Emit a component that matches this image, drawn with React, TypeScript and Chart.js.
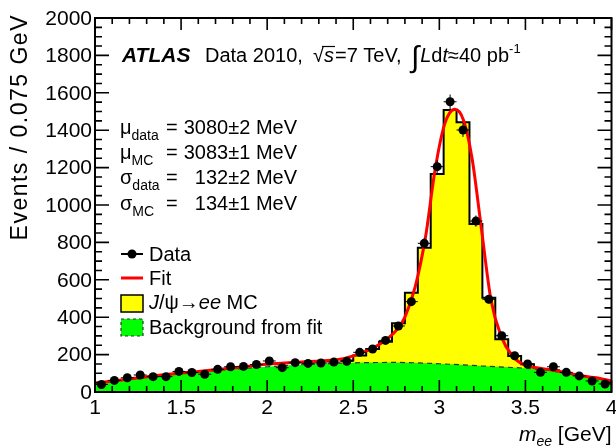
import { useEffect, useRef } from "react";
import { Chart, registerables } from "chart.js";

Chart.register(...registerables);

// ---------- axis definition ----------
const X_MIN = 1;
const X_MAX = 4;
const BIN_WIDTH = 0.075;
const Y_MIN = 0;
const Y_MAX = 2000;
const xMajorTicks = [1, 1.5, 2, 2.5, 3, 3.5, 4];
const xTickLabels = ["1", "1.5", "2", "2.5", "3", "3.5", "4"];
const yMajorTicks = [0, 200, 400, 600, 800, 1000, 1200, 1400, 1600, 1800, 2000];
const yTickLabels = ["0", "200", "400", "600", "800", "1000", "1200", "1400", "1600", "1800", "2000"];
const xMinorStep = 0.1;
const yMinorStep = 50;

// ---------- data (events per 0.075 GeV bin, 1.0 - 4.0 GeV) ----------
const dataCounts = [
  40, 62, 76, 91, 82, 82, 110, 104, 95, 121,
  135, 137, 147, 166, 130, 157, 153, 155, 160, 164,
  212, 230, 276, 353, 483, 795, 1205, 1552, 1401, 914,
  496, 301, 194, 150, 105, 135, 105, 86, 59, 43,
];
const dataErrors = [
  6, 8, 9, 10, 9, 9, 10, 10, 10, 11,
  12, 12, 12, 13, 11, 13, 12, 12, 13, 13,
  15, 15, 17, 19, 22, 28, 35, 39, 37, 30,
  22, 17, 14, 12, 10, 12, 10, 9, 8, 7,
];

// J/psi -> ee MC stacked on the background, from bin index mcFirstBin
const mcFirstBin = 19;
const mcStacked = [168, 195, 230, 269, 367, 531, 772, 1166, 1508, 1442, 898, 504, 282, 192, 148, 121, 116];

// fit curve (signal + background)
const fitMass = [1.0, 1.2, 1.4, 1.6, 1.8, 2.0, 2.2, 2.35, 2.45, 2.55, 2.62, 2.7, 2.76, 2.8, 2.86, 2.92, 2.975, 3.03, 3.09, 3.14, 3.19, 3.243, 3.3, 3.36, 3.42, 3.49, 3.6, 3.7, 3.8, 3.9, 4.0];
const fitValues = [47, 70, 92, 110, 128, 148, 160, 168, 180, 210, 237, 285, 340, 400, 563, 830, 1187, 1430, 1512, 1455, 1250, 884, 492, 296, 198, 146, 125, 110, 91, 77, 60];

// background component of the fit
const bkgMass = [1.0, 1.25, 1.5, 1.75, 2.0, 2.25, 2.5, 2.75, 3.0, 3.25, 3.5, 3.6, 3.7, 3.8, 3.9, 4.0];
const bkgValues = [42, 72, 97, 118, 135, 148, 156, 158, 151, 139, 127, 119, 106, 89, 74, 56];

// ---------- helpers ----------
const FONT = '"Liberation Sans", Arial, Helvetica, sans-serif';
const f = (size: number, style = "normal", weight = "normal") => `${style} ${weight} ${size}px ${FONT}`;

type Run = { t: string; size?: number; style?: string; weight?: string; dy?: number; gap?: number };

function runsWidth(ctx: CanvasRenderingContext2D, runs: Run[], base: number) {
  let w = 0;
  for (const r of runs) {
    ctx.font = f(r.size ?? base, r.style ?? "normal", r.weight ?? "normal");
    w += ctx.measureText(r.t).width + (r.gap ?? 0);
  }
  return w;
}

function drawRuns(ctx: CanvasRenderingContext2D, x: number, y: number, runs: Run[], base: number) {
  let cx = x;
  ctx.textAlign = "left";
  ctx.textBaseline = "alphabetic";
  for (const r of runs) {
    ctx.font = f(r.size ?? base, r.style ?? "normal", r.weight ?? "normal");
    ctx.fillText(r.t, cx, y + (r.dy ?? 0));
    cx += ctx.measureText(r.t).width + (r.gap ?? 0);
  }
  return cx;
}

const errorBarPlugin = {
  id: "errorBars",
  beforeDatasetDraw(chart: any, args: any) {
    if (args.index !== 0) return;
    const ctx = chart.ctx as CanvasRenderingContext2D;
    const xs = chart.scales.x;
    const ys = chart.scales.y;
    ctx.save();
    ctx.beginPath();
    ctx.rect(chart.chartArea.left, chart.chartArea.top, chart.chartArea.right - chart.chartArea.left, chart.chartArea.bottom - chart.chartArea.top);
    ctx.clip();
    ctx.strokeStyle = "#000";
    ctx.lineWidth = 1;
    dataCounts.forEach((n, i) => {
      const lo = X_MIN + i * BIN_WIDTH;
      const hi = lo + BIN_WIDTH;
      const cx = xs.getPixelForValue((lo + hi) / 2);
      const cy = ys.getPixelForValue(n);
      ctx.beginPath();
      ctx.moveTo(xs.getPixelForValue(lo), cy);
      ctx.lineTo(xs.getPixelForValue(hi), cy);
      ctx.moveTo(cx, ys.getPixelForValue(n - dataErrors[i]));
      ctx.lineTo(cx, ys.getPixelForValue(n + dataErrors[i]));
      ctx.stroke();
    });
    ctx.restore();
  },
};

const framePlugin = {
  id: "rootFrame",
  afterDraw(chart: any) {
    const ctx = chart.ctx as CanvasRenderingContext2D;
    const { left, right, top, bottom } = chart.chartArea;
    const xs = chart.scales.x;
    const ys = chart.scales.y;
    ctx.save();
    ctx.strokeStyle = "#000";
    ctx.fillStyle = "#000";
    ctx.lineWidth = 2;
    ctx.strokeRect(left, top, right - left, bottom - top);

    // x ticks (bottom and top, pointing inward)
    const nx = Math.round((X_MAX - X_MIN) / xMinorStep);
    ctx.lineWidth = 1.6;
    for (let k = 0; k <= nx; k++) {
      const v = X_MIN + k * xMinorStep;
      const px = xs.getPixelForValue(v);
      const major = k % 5 === 0;
      const len = major ? 12 : 6;
      ctx.beginPath();
      ctx.moveTo(px, bottom);
      ctx.lineTo(px, bottom - len);
      ctx.moveTo(px, top);
      ctx.lineTo(px, top + len);
      ctx.stroke();
    }
    // y ticks (left and right)
    const ny = Math.round((Y_MAX - Y_MIN) / yMinorStep);
    for (let k = 0; k <= ny; k++) {
      const v = Y_MIN + k * yMinorStep;
      const py = ys.getPixelForValue(v);
      const major = k % 4 === 0;
      const len = major ? 14 : 7;
      ctx.beginPath();
      ctx.moveTo(left, py);
      ctx.lineTo(left + len, py);
      ctx.moveTo(right, py);
      ctx.lineTo(right - len, py);
      ctx.stroke();
    }

    // tick labels
    ctx.font = f(21);
    ctx.textAlign = "center";
    ctx.textBaseline = "top";
    xMajorTicks.forEach((v, i) => {
      ctx.fillText(xTickLabels[i], xs.getPixelForValue(v), bottom + 6);
    });
    ctx.textAlign = "right";
    ctx.textBaseline = "middle";
    yMajorTicks.forEach((v, i) => {
      ctx.fillText(yTickLabels[i], left - 3, ys.getPixelForValue(v) + 1);
    });

    // y axis title
    ctx.save();
    ctx.translate(27, top - 4);
    ctx.rotate(-Math.PI / 2);
    ctx.textAlign = "right";
    ctx.textBaseline = "alphabetic";
    ctx.font = f(23);
    (ctx as any).letterSpacing = "1.5px";
    ctx.fillText("Events / 0.075 GeV", 0, 0);
    (ctx as any).letterSpacing = "0px";
    ctx.restore();

    // x axis title
    const xt: Run[] = [
      { t: "m", style: "italic" },
      { t: "ee", style: "italic", size: 14, dy: 5 },
      { t: " [GeV]" },
    ];
    const w = runsWidth(ctx, xt, 21);
    drawRuns(ctx, right - w, 441, xt, 21);

    // ATLAS label
    const ay = 62;
    drawRuns(ctx, 122, ay, [{ t: "ATLAS", style: "italic", weight: "bold", size: 21 }], 20);
    drawRuns(ctx, 205, ay, [{ t: "Data 2010," }], 20);
    // sqrt(s) with overbar, ROOT style
    const sx = drawRuns(ctx, 313, ay, [{ t: "\u221A", gap: -1 }], 20);
    ctx.font = f(20, "italic");
    const sw = ctx.measureText("s").width;
    ctx.fillText("s", sx + 1, ay);
    ctx.lineWidth = 1.2;
    ctx.beginPath();
    ctx.moveTo(sx - 1, ay - 15.5);
    ctx.lineTo(sx + sw + 2, ay - 15.5);
    ctx.stroke();
    drawRuns(ctx, sx + sw + 2, ay, [{ t: "=7 TeV," }], 20);
    drawRuns(ctx, 411, ay, [
      { t: "\u222B", size: 30, dy: 5, gap: 1 },
      { t: "L", style: "italic" },
      { t: "d" },
      { t: "t", style: "italic" },
      { t: "\u224840 pb" },
      { t: "-1", size: 13, dy: -9 },
    ], 20);

    // fit results
    const rows: { sym: string; sub: string; val: string; y: number }[] = [
      { sym: "\u03BC", sub: "data", val: "3080\u00B12 MeV", y: 134 },
      { sym: "\u03BC", sub: "MC", val: "3083\u00B11 MeV", y: 159 },
      { sym: "\u03C3", sub: "data", val: "132\u00B12 MeV", y: 184 },
      { sym: "\u03C3", sub: "MC", val: "134\u00B11 MeV", y: 210 },
    ];
    rows.forEach((r) => {
      drawRuns(ctx, 120, r.y, [{ t: r.sym }, { t: r.sub, size: 14, dy: 6 }], 20);
      ctx.font = f(20);
      ctx.textAlign = "left";
      ctx.fillText("=", 166, r.y);
      ctx.textAlign = "right";
      ctx.fillText(r.val, 297, r.y);
    });

    // legend
    const lx0 = 121;
    const lx1 = 143;
    const tx = 149;
    // Data
    ctx.strokeStyle = "#000";
    ctx.lineWidth = 2;
    ctx.beginPath();
    ctx.moveTo(lx0, 254);
    ctx.lineTo(lx1, 254);
    ctx.stroke();
    ctx.beginPath();
    ctx.arc((lx0 + lx1) / 2, 254, 4.5, 0, Math.PI * 2);
    ctx.fill();
    drawRuns(ctx, tx, 261, [{ t: "Data" }], 20);
    // Fit
    ctx.strokeStyle = "#ff0000";
    ctx.lineWidth = 3;
    ctx.beginPath();
    ctx.moveTo(lx0, 278);
    ctx.lineTo(lx1, 278);
    ctx.stroke();
    drawRuns(ctx, tx, 285, [{ t: "Fit" }], 20);
    // MC
    ctx.fillStyle = "#ffff00";
    ctx.fillRect(lx0, 295, lx1 - lx0, 17);
    ctx.strokeStyle = "#000";
    ctx.lineWidth = 1.5;
    ctx.strokeRect(lx0, 295, lx1 - lx0, 17);
    ctx.fillStyle = "#000";
    drawRuns(ctx, tx, 309, [
      { t: "J", style: "italic" },
      { t: "/\u03C8" },
      { t: "\u2192" },
      { t: "ee", style: "italic" },
      { t: " MC" },
    ], 20);
    // Background
    ctx.fillStyle = "#00ff00";
    ctx.fillRect(lx0, 319, lx1 - lx0, 17);
    ctx.strokeStyle = "#333";
    ctx.lineWidth = 1.2;
    ctx.setLineDash([3, 3]);
    ctx.strokeRect(lx0, 319, lx1 - lx0, 17);
    ctx.setLineDash([]);
    ctx.fillStyle = "#000";
    drawRuns(ctx, tx, 334, [{ t: "Background from fit" }], 20);

    ctx.restore();
  },
};

export default function App() {
  const canvasRef = useRef<HTMLCanvasElement | null>(null);

  useEffect(() => {
    if (!canvasRef.current) return;

    const dataPoints = dataCounts.map((n, i) => ({ x: X_MIN + (i + 0.5) * BIN_WIDTH, y: n }));
    const mcPoints: { x: number; y: number }[] = [];
    mcStacked.forEach((v, j) => {
      const lo = X_MIN + (mcFirstBin + j) * BIN_WIDTH;
      mcPoints.push({ x: lo, y: v });
      mcPoints.push({ x: lo + BIN_WIDTH, y: v });
    });
    const fitPoints = fitMass.map((m, i) => ({ x: m, y: fitValues[i] }));
    const bkgPoints = bkgMass.map((m, i) => ({ x: m, y: bkgValues[i] }));

    const chart = new Chart(canvasRef.current, {
      type: "line",
      data: {
        datasets: [
          {
            label: "Data",
            data: dataPoints,
            showLine: false,
            pointRadius: 4.5,
            pointBackgroundColor: "#000",
            pointBorderColor: "#000",
            pointBorderWidth: 0,
            order: 0,
          },
          {
            label: "Fit",
            data: fitPoints,
            borderColor: "#ff0000",
            borderWidth: 3,
            pointRadius: 0,
            cubicInterpolationMode: "monotone",
            fill: false,
            order: 1,
          },
          {
            label: "Background from fit",
            data: bkgPoints,
            borderColor: "#333333",
            borderWidth: 1.2,
            borderDash: [5, 4],
            backgroundColor: "#00ff00",
            pointRadius: 0,
            cubicInterpolationMode: "monotone",
            fill: "origin",
            order: 2,
          },
          {
            label: "J/\u03C8\u2192ee MC",
            data: mcPoints,
            borderColor: "#000",
            borderWidth: 2,
            backgroundColor: "#ffff00",
            pointRadius: 0,
            tension: 0,
            fill: "origin",
            order: 3,
          },
        ] as any,
      },
      options: {
        animation: false,
        responsive: false,
        maintainAspectRatio: false,
        devicePixelRatio: 1,
        layout: { padding: { left: 95, right: 1, top: 18, bottom: 56 } },
        scales: {
          x: { type: "linear", min: X_MIN, max: X_MAX, display: false },
          y: { type: "linear", min: Y_MIN, max: Y_MAX, display: false },
        },
        plugins: {
          legend: { display: false },
          tooltip: { enabled: false },
          title: { display: false },
        },
        events: [],
      },
      plugins: [errorBarPlugin, framePlugin],
    });

    return () => chart.destroy();
  }, []);

  return (
    <div style={{ position: "fixed", left: 0, top: 0, width: 616, height: 448, background: "#fff" }}>
      <canvas ref={canvasRef} width={616} height={448} style={{ width: 616, height: 448, display: "block" }} />
    </div>
  );
}
